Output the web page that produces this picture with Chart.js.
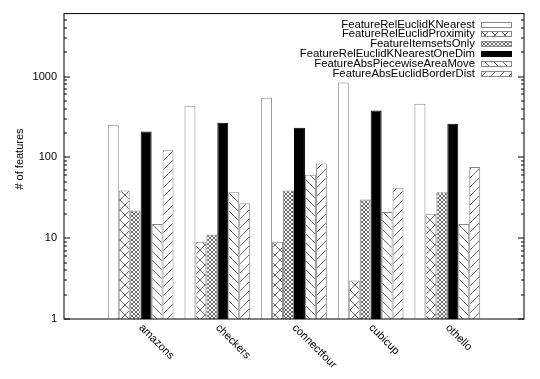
<!DOCTYPE html>
<html>
<head>
<meta charset="utf-8">
<script src="https://cdn.jsdelivr.net/npm/chart.js@4.4.0/dist/chart.umd.min.js"></script>
<style>
    body { margin: 0; background: #fff; }
    #wrap { width: 540px; height: 379px; }
</style>
</head>
<body>
<div id="wrap"><canvas id="myChart"></canvas></div>
<script>
// categorias do eixo x
const categorias = ['amazons', 'checkers', 'connectfour', 'cubicup', 'othello'];

// nomes das series (legenda)
const series = [
    'FeatureRelEuclidKNearest',
    'FeatureRelEuclidProximity',
    'FeatureItemsetsOnly',
    'FeatureRelEuclidKNearestOneDim',
    'FeatureAbsPiecewiseAreaMove',
    'FeatureAbsEuclidBorderDist'
];

// valores (# of features)
const relEuclidKNearest = [253, 435, 546, 843, 460];
const relEuclidProximity = [39, 9, 9, 3, 20];
const itemsetsOnly = [22, 11, 39, 30, 37];
const relEuclidKNearestOneDim = [209, 268, 232, 380, 261];
const absPiecewiseAreaMove = [15, 37, 61, 21, 15];
const absEuclidBorderDist = [122, 27, 84, 42, 76];

// ticks do eixo y
const yTicks = [1, 10, 100, 1000];
const yMin = 1;
const yMax = 6000;

const valores = [relEuclidKNearest, relEuclidProximity, itemsetsOnly,
    relEuclidKNearestOneDim, absPiecewiseAreaMove, absEuclidBorderDist];

const fonte = '"Liberation Sans", Arial, sans-serif';
Chart.defaults.font.family = fonte;
Chart.defaults.font.size = 11;
Chart.defaults.color = '#000';

// padroes de preenchimento (estilo gnuplot)
const makePattern = (size, desenho) => {
    const c = document.createElement('canvas');
    c.width = size;
    c.height = size;
    const g = c.getContext('2d');
    g.fillStyle = '#fff';
    g.fillRect(0, 0, size, size);
    g.strokeStyle = '#666';
    g.lineWidth = 1;
    desenho(g, size);
    return g.createPattern(c, 'repeat');
};

const barraInvertida = (g, s) => {
    for (const k of [-s, 0, s]) {
        g.beginPath(); g.moveTo(k, 0); g.lineTo(k + s, s); g.stroke();
    }
};
const barra = (g, s) => {
    for (const k of [-s, 0, s]) {
        g.beginPath(); g.moveTo(k + s, 0); g.lineTo(k, s); g.stroke();
    }
};
const xis = (g, s) => { barraInvertida(g, s); barra(g, s); };

const preenchimentos = [
    '#fff',
    makePattern(10, xis),
    makePattern(4, xis),
    '#000',
    makePattern(9, barraInvertida),
    makePattern(9, barra)
];

const datasets = series.map((nome, i) => ({
    label: nome,
    data: valores[i].map((v, j) => ({ x: j, y: v })),
    backgroundColor: preenchimentos[i],
    borderColor: i === 3 ? '#000' : '#888',
    borderWidth: 1,
    categoryPercentage: 6 / 7,
    barPercentage: 1
}));

// moldura, tiques internos, rotulos girados, titulo e legenda
const desenhos = {
    id: 'desenhos',
    afterDraw(chart) {
        const { ctx, chartArea: a, scales: { x, y } } = chart;
        ctx.save();
        ctx.strokeStyle = '#000';
        ctx.lineWidth = 1;
        ctx.strokeRect(a.left, a.top, a.right - a.left, a.bottom - a.top);

        // tiques do eixo y (esquerda e direita)
        const tique = (v, len) => {
            const py = Math.round(y.getPixelForValue(v));
            ctx.beginPath();
            ctx.moveTo(a.left, py); ctx.lineTo(a.left + len, py);
            ctx.moveTo(a.right, py); ctx.lineTo(a.right - len, py);
            ctx.stroke();
        };
        yTicks.forEach(v => {
            tique(v, 6);
            for (let m = 2; m <= 9; m++) {
                if (v * m < yMax) tique(v * m, 3);
            }
        });

        // rotulos do eixo x
        ctx.fillStyle = '#000';
        ctx.font = '11px ' + fonte;
        categorias.forEach((c, i) => {
            ctx.save();
            ctx.translate(x.getPixelForValue(i), a.bottom + 7);
            ctx.rotate(Math.PI / 4);
            ctx.textAlign = 'left';
            ctx.textBaseline = 'middle';
            ctx.fillText(c, 0, 0);
            ctx.restore();
        });

        // titulo do eixo y
        ctx.save();
        ctx.translate(20, 159);
        ctx.rotate(-Math.PI / 2);
        ctx.textAlign = 'center';
        ctx.textBaseline = 'middle';
        ctx.fillText('# of features', 0, 0);
        ctx.restore();

        // legenda
        ctx.font = '11.3px ' + fonte;
        chart.data.datasets.forEach((ds, i) => {
            const yy = Math.round(a.top + 11 + i * 9.8);
            ctx.fillStyle = '#000';
            ctx.textAlign = 'right';
            ctx.textBaseline = 'middle';
            ctx.fillText(ds.label, a.right - 49, yy);
            ctx.fillStyle = ds.backgroundColor;
            ctx.fillRect(a.right - 43, yy - 3, 31, 6);
            ctx.strokeStyle = ds.borderColor;
            ctx.strokeRect(a.right - 42.5, yy - 2.5, 30, 5);
        });
        ctx.restore();
    }
};

const myChart = new Chart(document.getElementById('myChart'), {
    type: 'bar',
    data: { datasets: datasets },
    options: {
        responsive: true,
        maintainAspectRatio: false,
        animation: false,
        events: [],
        layout: { padding: { top: 12, right: 16, left: 0, bottom: 0 } },
        plugins: {
            legend: { display: false },
            tooltip: { enabled: false }
        },
        scales: {
            x: {
                type: 'linear',
                min: -1,
                max: 5,
                offset: false,
                ticks: { display: false, stepSize: 1 },
                grid: { display: false, drawTicks: false },
                border: { display: false },
                afterFit: s => { s.height = 60; }
            },
            y: {
                type: 'logarithmic',
                min: yMin,
                max: yMax,
                afterBuildTicks: s => { s.ticks = yTicks.map(v => ({ value: v })); },
                ticks: { padding: 7, autoSkip: false, callback: v => String(v) },
                grid: { display: false, drawTicks: false },
                border: { display: false },
                afterFit: s => { s.width = 64; }
            }
        }
    },
    plugins: [desenhos]
});
</script>
</body>
</html>
